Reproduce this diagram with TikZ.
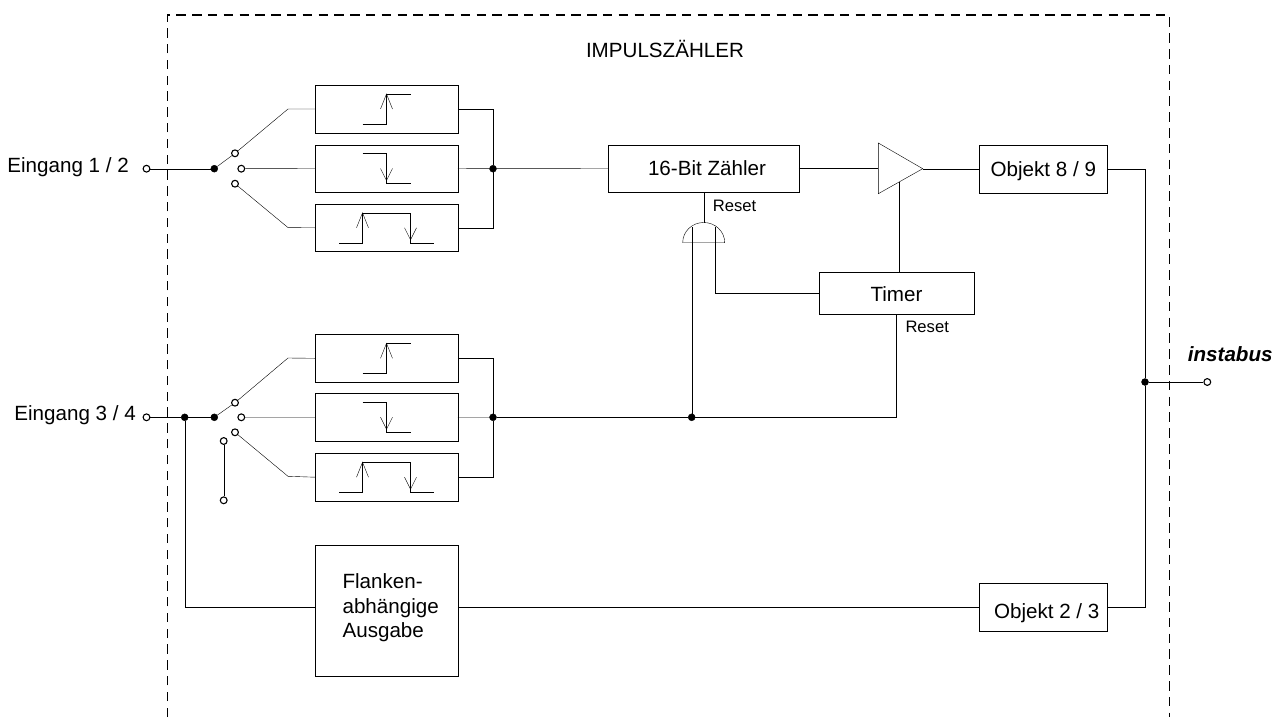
\documentclass[tikz,border=0pt]{standalone}
\usepackage{fontspec}
\setmainfont{Liberation Sans}
\newcommand{\bigtxt}{\fontsize{20.6}{24.5}\selectfont}
\newcommand{\smalltxt}{\fontsize{16.6}{20}\selectfont}
\newcommand{\lab}[1]{\vphantom{Äg}#1}
\newcommand{\drop}[2]{\raisebox{-#1pt}[0pt][0pt]{#2}}
\tikzset{
  x=1pt, y=-1pt,
  line width=1.45pt,
  box/.style={draw, rectangle, fill=white, inner sep=0pt, font=\bigtxt},
  edgebox/.style={box, minimum width=142.4pt, minimum height=47.6pt},
  objbox/.style={box, minimum width=128pt, minimum height=48pt},
  term/.style={draw, circle, fill=white, inner sep=0pt, minimum size=6.8pt, line width=1.1pt},
  dot/.style={draw, circle, fill=black, inner sep=0pt, minimum size=7pt},
  txt/.style={inner sep=0pt, font=\bigtxt},
  resettxt/.style={inner sep=0pt, font=\smalltxt, anchor=west},
  border/.style={dash pattern=on 9.5pt off 6.3pt, line width=1.2pt},
  risesym/.pic={
    \draw (-24,15) -- (0,15) -- (0,-15) -- (24,-15);
    \draw (-6,0) -- (0,-15) -- (6,0);
  },
  fallsym/.pic={
    \draw (-24,-15) -- (0,-15) -- (0,15) -- (24,15);
    \draw (-6,0) -- (0,12) -- (6,0);
  },
  bothsym/.pic={
    \draw (-47.5,15) -- (-24,15) -- (-24,-15) -- (24,-15) -- (24,15) -- (47.5,15);
    \draw (-30,0) -- (-24,-15) -- (-18,0);
    \draw (18,0) -- (24,12) -- (30,0);
  }
}
\begin{document}
\begin{tikzpicture}
\useasboundingbox (0,0) rectangle (1282,720);

% border of the device
\coordinate (bl) at (167.3,717);
\coordinate (tl) at (167.3,15);
\coordinate (tr) at (1169.3,15);
\coordinate (br) at (1169.3,717);
\draw[border] (bl) -- (tl) -- (tr) -- (br);
\node[txt] (title) at (665,48.7) {IMPULSZÄHLER};

% --- upper channel
\node[txt, anchor=east] (in1) at (129,166.5) {\lab{Eingang 1 / 2}};
\node[term] (t1) at (146.5,168.7) {};
\node[dot] (d1) at (214.3,168.7) {};
\node[term] (s1a) at (235,153.3) {};
\node[term] (s1b) at (241.3,168.7) {};
\node[term] (s1c) at (235,183.7) {};
\coordinate (e1a) at (288,109);
\coordinate (e1c) at (288,227.6);
\node[edgebox] (b1) at (386.5,109) {};
\node[edgebox] (b2) at (386.5,168.5) {};
\node[edgebox] (b3) at (386.5,227.8) {};
\pic at (b1.center) {risesym};
\pic at (b2.center) {fallsym};
\pic at (b3.center) {bothsym};
\node[dot] (j1) at (493,168.7) {};
\draw (t1) -- (d1);
\draw (d1) -- (s1a) -- (e1a) -- (b1.west);
\draw (s1b) -- (b2.west);
\draw (s1c) -- (e1c) -- (b3.west);
\draw (b1.east) -| (j1);
\draw (b3.east) -| (j1);
\draw (b2.east) -- (j1);

% --- lower channel
\node[txt, anchor=east] (in2) at (136,414.5) {\lab{Eingang 3 / 4}};
\node[term] (t2) at (146.5,417.3) {};
\node[dot] (d2a) at (184.7,417.3) {};
\node[dot] (d2) at (214.3,417.3) {};
\node[term] (s2a) at (235,402.7) {};
\node[term] (s2b) at (241.3,417.3) {};
\node[term] (s2c) at (235,432.3) {};
\node[term] (s2d) at (223.7,441) {};
\node[term] (s2e) at (223.7,500.3) {};
\coordinate (e2a) at (288,358);
\coordinate (e2c) at (288,476.3);
\node[edgebox] (b4) at (386.5,358.3) {};
\node[edgebox] (b5) at (386.5,417.2) {};
\node[edgebox] (b6) at (386.5,477.2) {};
\pic at (b4.center) {risesym};
\pic at (b5.center) {fallsym};
\pic at (b6.center) {bothsym};
\node[dot] (j2) at (493,417.3) {};
\draw (t2) -- (d2a) -- (d2);
\draw (d2) -- (s2a) -- (e2a) -- (b4.west);
\draw (s2b) -- (b5.west);
\draw (s2c) -- (e2c) -- (b6.west);
\draw (s2d) -- (s2e);
\draw (b4.east) -| (j2);
\draw (b6.east) -| (j2);
\draw (b5.east) -- (j2);

% --- counter path
\node[box, minimum width=190.4pt, minimum height=47.6pt] (cnt) at (703.5,168.5) {\hspace*{7pt}\drop{6.5}{16-Bit Zähler}};
\draw (j1) -- (cnt.west);
\coordinate (trA) at (878.3,143);
\coordinate (trB) at (878.3,193.7);
\coordinate (trC) at (922.7,168.7);
\coordinate (trD) at (899,182);
\draw[fill=white, line join=miter] (trA) -- (trC) -- (trB) -- cycle;
\draw (cnt.east) -- (trA |- cnt.east);
\node[objbox] (ob1) at (1043.3,168.7) {\drop{8}{Objekt 8 / 9}};
\draw (trC) -- (ob1.west);

% --- AND gate
\coordinate (gW) at (682.7,242.7);
\coordinate (gE) at (724.7,242.7);
\coordinate (gT) at (703.7,222.5);
\coordinate (gA) at (691.7,227);
\coordinate (gB) at (715.3,227);
\draw (gW) .. controls (682.7,231.5) and (692,222.5) .. (gT)
           .. controls (715.4,222.5) and (724.7,231.5) .. (gE) -- cycle;
\draw (gT) -- (gT |- cnt.south);
\node[resettxt] (rst1) at (712.7,206.3) {Reset};

% --- timer
\node[box, minimum width=154.4pt, minimum height=41.4pt] (tim) at (896.5,293) {\drop{8.7}{Timer}};
\node[resettxt] (rst2) at (905.3,327) {Reset};
\draw (trD) -- (trD |- tim.north);
\coordinate (gBd) at (715.3,292.7);
\draw (gB) -- (gBd) -- (gBd -| tim.west);
\node[dot] (j3) at (691.7,417.3) {};
\coordinate (rc) at (895.7,417.3);
\draw (j2) -- (j3) -- (rc) -- (rc |- tim.south);
\draw (gA) -- (j3);

% --- bottom path
\node[box, minimum width=142.4pt, minimum height=131pt, align=left] (fl) at (386.5,610.2)
  {\drop{3.4}{\begin{tabular}{@{\hspace*{8.4pt}}l@{}}Flanken-\\abhängige\\Ausgabe\end{tabular}}};
\node[objbox] (ob2) at (1043.3,607.3) {\hspace*{6.8pt}\drop{11}{Objekt 2 / 3}};
\coordinate (fy) at (184.7,606.8);
\draw (d2a) -- (fy) -- (fy -| fl.west);
\draw (fy -| fl.east) -- (fy -| ob2.west);

% --- bus
\node[dot] (j4) at (1145,382) {};
\node[term] (t3) at (1207.3,382) {};
\draw (ob1.east) -| (j4);
\draw (ob2.east) -| (j4);
\draw (j4) -- (t3);
\node[txt, anchor=west, font=\bigtxt\bfseries\itshape] (bus) at (1187.7,355) {\lab{instabus}};
\end{tikzpicture}
\end{document}
